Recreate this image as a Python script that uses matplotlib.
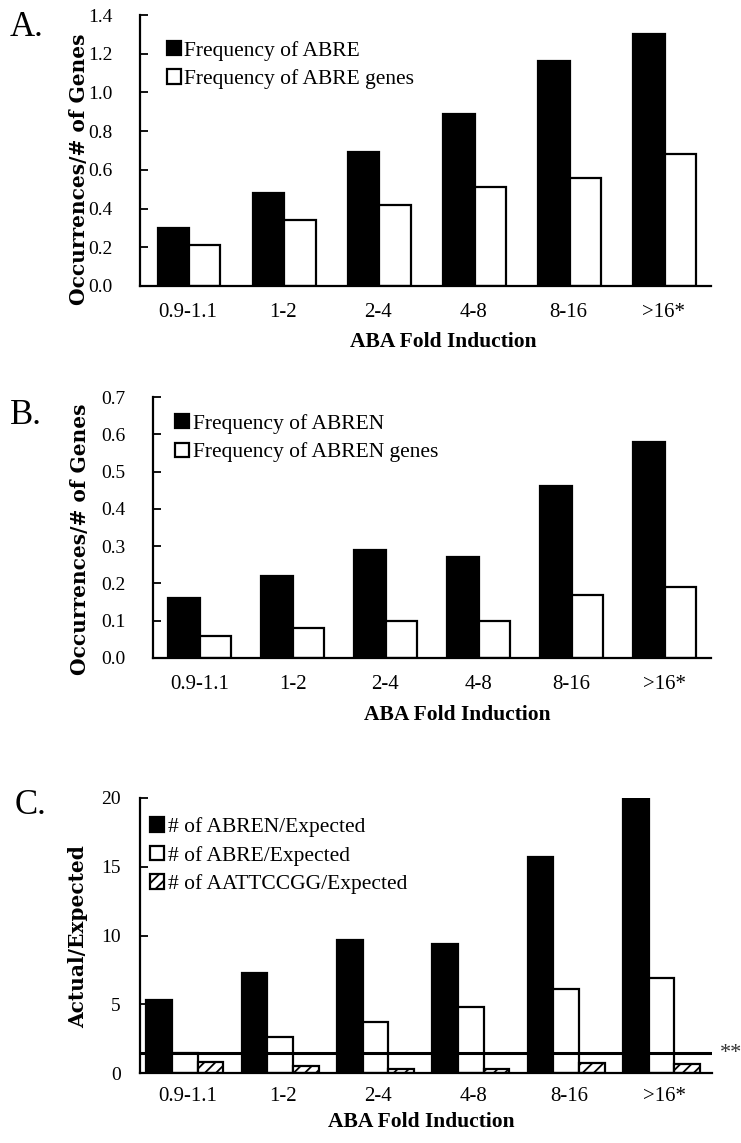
import numpy as np
import matplotlib
matplotlib.use("Agg")
import matplotlib.pyplot as plt

# ABA fold-induction bins shared by all three panels
bins = ["0.9-1.1", "1-2", "2-4", "4-8", "8-16", ">16*"]

# Panel A: ABRE
abre_freq = [0.30, 0.48, 0.69, 0.89, 1.16, 1.30]
abre_gene_freq = [0.21, 0.34, 0.42, 0.51, 0.56, 0.68]

# Panel B: ABREN
abren_freq = [0.16, 0.22, 0.29, 0.27, 0.46, 0.58]
abren_gene_freq = [0.06, 0.08, 0.10, 0.10, 0.17, 0.19]

# Panel C: actual / expected
abren_ratio = [5.3, 7.3, 9.7, 9.4, 15.7, 20.0]
abre_ratio = [1.45, 2.6, 3.7, 4.8, 6.1, 6.9]
aattccgg_ratio = [0.8, 0.5, 0.3, 0.3, 0.7, 0.65]
threshold = 1.45

SERIF = "Liberation Serif"
plt.rcParams["font.family"] = SERIF
plt.rcParams["hatch.linewidth"] = 1.3

W, H = 741, 1143
fig = plt.figure(figsize=(W / 100, H / 100), dpi=100)


def px_axes(left, right, top, bottom):
    return fig.add_axes([left / W, 1 - bottom / H, (right - left) / W, (bottom - top) / H])


def style_axes(ax, ymax, ystep, yfmt, ypad, xpad):
    x = np.arange(len(bins))
    ax.set_xlim(-0.5, len(bins) - 0.5)
    ax.set_ylim(0, ymax)
    ax.set_yticks(np.arange(0, ymax + ystep / 2, ystep))
    ax.set_yticklabels([yfmt.format(v) for v in np.arange(0, ymax + ystep / 2, ystep)])
    ax.set_xticks(x)
    ax.set_xticklabels(bins, fontsize=15)
    ax.tick_params(axis="x", length=0, pad=xpad)
    ax.tick_params(axis="y", direction="in", length=6, width=1.3, pad=ypad, labelsize=14)
    for s in ("top", "right"):
        ax.spines[s].set_visible(False)
    for s in ("left", "bottom"):
        ax.spines[s].set_linewidth(1.6)
    ax.spines["bottom"].set_zorder(5)


def labels(ax, ylabel, xl, yl):
    ax.set_xlabel("ABA Fold Induction", fontsize=15.5, fontweight="bold", va="center")
    ax.xaxis.set_label_coords(*xl)
    ax.set_ylabel(ylabel, fontsize=14.5, fontweight="bold", family="DejaVu Serif", va="center")
    ax.yaxis.set_label_coords(*yl)


bar_kw = dict(edgecolor="black", linewidth=1.6)
leg_kw = dict(frameon=False, loc="upper left", fontsize=15.5, handlelength=0.65,
              handleheight=0.65, handletextpad=0.15, labelspacing=0.4,
              borderpad=0, borderaxespad=0)

# ---- A ----
axA = px_axes(140, 711, 15, 286)
x = np.arange(len(bins))
w = 0.33
axA.bar(x - w / 2 + 0.015, abre_freq, w, color="black", label="Frequency of ABRE", **bar_kw)
axA.bar(x + w / 2 + 0.015, abre_gene_freq, w, color="white", label="Frequency of ABRE genes", **bar_kw)
style_axes(axA, 1.4, 0.2, "{:.1f}", 20, 12)
labels(axA, "Occurrences/# of Genes", (0.532, -0.207), (-0.107, 0.43))
axA.legend(bbox_to_anchor=(0.047, 0.905), **leg_kw)

# ---- B ----
axB = px_axes(153, 711, 397, 658)
w = 0.34
axB.bar(x - w / 2, abren_freq, w, color="black", label="Frequency of ABREN", **bar_kw)
axB.bar(x + w / 2, abren_gene_freq, w, color="white", label="Frequency of ABREN genes", **bar_kw)
style_axes(axB, 0.7, 0.1, "{:.1f}", 20, 12)
labels(axB, "Occurrences/# of Genes", (0.545, -0.218), (-0.131, 0.456))
axB.legend(bbox_to_anchor=(0.04, 0.935), **leg_kw)

# ---- C ----
axC = px_axes(140, 712, 798, 1073)
w = 0.27
axC.bar(x - w - 0.03, abren_ratio, w, color="black", label="# of ABREN/Expected", **bar_kw)
axC.bar(x - 0.03, abre_ratio, w, color="white", label="# of ABRE/Expected", **bar_kw)
axC.bar(x + w - 0.03, aattccgg_ratio, w, color="white", hatch="///",
        label="# of AATTCCGG/Expected", **bar_kw)
axC.axhline(threshold, color="black", linewidth=2.2, zorder=6)
style_axes(axC, 20, 5, "{:.0f}", 14, 10)
labels(axC, "Actual/Expected", (0.491, -0.178), (-0.108, 0.495))
axC.legend(bbox_to_anchor=(0.018, 0.93), **leg_kw)
axC.text(1.014, threshold, "**", transform=axC.get_yaxis_transform(), fontsize=16,
         va="center", ha="left", color="#333333")

# panel letters
for letter, yc, xl in (("A.", 28, 10), ("B.", 415, 10), ("C.", 805, 15)):
    fig.text(xl / W, 1 - yc / H, letter, fontsize=25, va="center", ha="left")

fig.savefig("out.png", dpi=100)
